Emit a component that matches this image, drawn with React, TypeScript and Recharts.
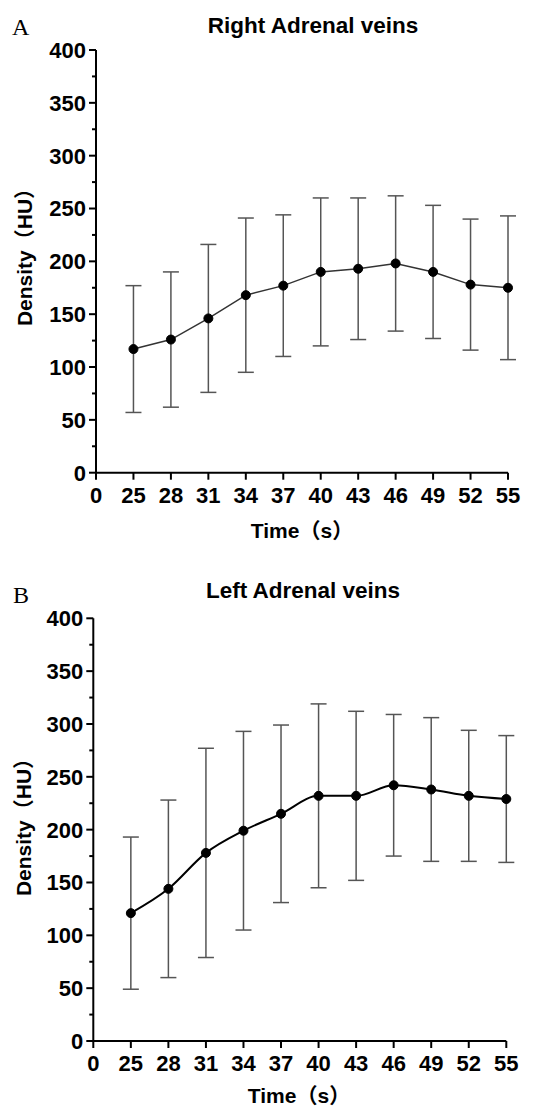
import React from "react";
import { LineChart, Line, XAxis, YAxis, ErrorBar } from "recharts";

// categories (x positions are evenly spaced, "0" sits at the origin)
const timeLabels = ["0", "25", "28", "31", "34", "37", "40", "43", "46", "49", "52", "55"];
const times = [25, 28, 31, 34, 37, 40, 43, 46, 49, 52, 55];

// A: right adrenal veins (mean, SD) in HU
const rightMean = [117, 126, 146, 168, 177, 190, 193, 198, 190, 178, 175];
const rightSd = [60, 64, 70, 73, 67, 70, 67, 64, 63, 62, 68];

// B: left adrenal veins (mean, SD) in HU
const leftMean = [121, 144, 178, 199, 215, 232, 232, 242, 238, 232, 229];
const leftSd = [72, 84, 99, 94, 84, 87, 80, 67, 68, 62, 60];

const yTicks = [0, 25, 50, 75, 100, 125, 150, 175, 200, 225, 250, 275, 300, 325, 350, 375, 400];

const FONT = '"Liberation Sans", Arial, "Noto Sans CJK SC", sans-serif';
const SERIF = '"Liberation Serif", "Times New Roman", serif';

const buildRows = (mean: number[], sd: number[]) =>
  times.map((t, i) => ({ pos: i + 1, time: t, mean: mean[i], sd: sd[i] }));

const YTick = (props: any) => {
  const { x, y, payload } = props;
  const major = payload.value % 50 === 0;
  return (
    <g>
      <line x1={x - (major ? 7 : 4)} x2={x} y1={y} y2={y} stroke="#000" strokeWidth={2} />
      {major && (
        <text x={x - 10} y={y} dy="0.36em" textAnchor="end" fontFamily={FONT} fontWeight="bold" fontSize={22} fill="#000">
          {payload.value}
        </text>
      )}
    </g>
  );
};

const XTick = (props: any) => {
  const { x, y, payload } = props;
  return (
    <g>
      <line x1={x} x2={x} y1={y} y2={y + 7} stroke="#000" strokeWidth={2} />
      <text x={x} y={y + 30} textAnchor="middle" fontFamily={FONT} fontWeight="bold" fontSize={22} fill="#000">
        {timeLabels[payload.value]}
      </text>
    </g>
  );
};

function DensityChart({ rows, margin, yWidth, curve, lineColor, lineWidth }: any) {
  return (
    <LineChart width={537} height={555} data={rows} margin={margin}>
      <XAxis
        type="number"
        dataKey="pos"
        domain={[0, 11]}
        ticks={timeLabels.map((_, i) => i)}
        interval={0}
        height={40}
        tickSize={0}
        tickMargin={0}
        tick={<XTick />}
        axisLine={{ stroke: "#000", strokeWidth: 2 }}
        tickLine={false}
      />
      <YAxis
        type="number"
        domain={[0, 400]}
        ticks={yTicks}
        interval={0}
        width={yWidth}
        tickSize={0}
        tickMargin={0}
        tick={<YTick />}
        axisLine={{ stroke: "#000", strokeWidth: 2 }}
        tickLine={false}
      />
      <Line
        type={curve}
        dataKey="mean"
        stroke={lineColor}
        strokeWidth={lineWidth}
        dot={{ r: 4.5, fill: "#000", stroke: "#000", strokeWidth: 1 }}
        isAnimationActive={false}
      >
        <ErrorBar dataKey="sd" width={8} stroke="#555" strokeWidth={1.5} direction="y" isAnimationActive={false} />
      </Line>
    </LineChart>
  );
}

export default function App() {
  return (
    <div style={{ position: "absolute", left: 0, top: 0, width: 537, height: 1110, background: "#fff" }}>
      <div style={{ position: "absolute", left: 0, top: 0 }}>
        <DensityChart
          rows={buildRows(rightMean, rightSd)}
          margin={{ top: 50, right: 29, left: 0, bottom: 42.3 }}
          yWidth={96}
          curve="linear"
          lineColor="#333"
          lineWidth={1.5}
        />
      </div>
      <div style={{ position: "absolute", left: 0, top: 555 }}>
        <DensityChart
          rows={buildRows(leftMean, leftSd)}
          margin={{ top: 63.3, right: 30.7, left: 0, bottom: 29 }}
          yWidth={93.3}
          curve="monotone"
          lineColor="#000"
          lineWidth={2}
        />
      </div>
      <svg width={537} height={1110} style={{ position: "absolute", left: 0, top: 0, pointerEvents: "none" }}>
        <text x={12} y={35} fontFamily={SERIF} fontSize={24} fill="#000">A</text>
        <text x={313} y={33} textAnchor="middle" fontFamily={FONT} fontWeight="bold" fontSize={22.5} fill="#000">Right Adrenal veins</text>
        <text transform="translate(24,252) rotate(-90)" textAnchor="middle" dominantBaseline="central" fontFamily={FONT} fontWeight="bold" fontSize={21} fill="#000">Density（HU）</text>
        <text x={302} y={538} textAnchor="middle" fontFamily={FONT} fontWeight="bold" fontSize={21} fill="#000">Time（s）</text>

        <text x={13} y={603} fontFamily={SERIF} fontSize={24} fill="#000">B</text>
        <text x={303} y={598} textAnchor="middle" fontFamily={FONT} fontWeight="bold" fontSize={22.5} fill="#000">Left Adrenal veins</text>
        <text transform="translate(23,822) rotate(-90)" textAnchor="middle" dominantBaseline="central" fontFamily={FONT} fontWeight="bold" fontSize={21} fill="#000">Density（HU）</text>
        <text x={299} y={1103} textAnchor="middle" fontFamily={FONT} fontWeight="bold" fontSize={21} fill="#000">Time（s）</text>
      </svg>
    </div>
  );
}
